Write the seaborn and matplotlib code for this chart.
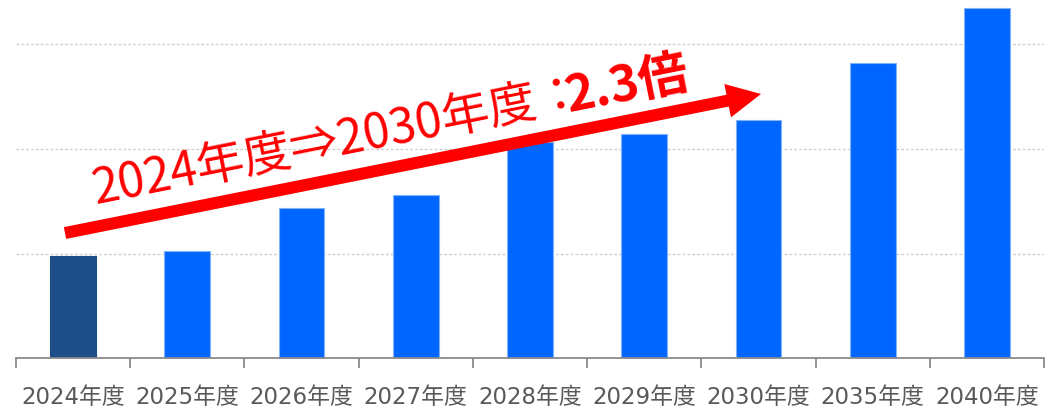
import matplotlib
matplotlib.use("Agg")
import matplotlib.pyplot as plt
import matplotlib.transforms as mtransforms
from matplotlib.patches import FancyArrow
import seaborn as sns
import numpy as np

# ---- data ----
categories = ["2024年度", "2025年度", "2026年度", "2027年度", "2028年度",
              "2029年度", "2030年度", "2035年度", "2040年度"]
values = [98, 102, 143, 156, 206, 214, 227, 282, 334]
bar_colors = ["#1D4E89"] + ["#0066FF"] * 8
grid_values = [100, 200, 300]
label_main = "2024年度⇒2030年度："
label_ratio = "2.3倍"

sns.set_theme(style="white")
plt.rcParams["font.family"] = ["DejaVu Sans", "Noto Sans CJK JP"]

W, H = 1054, 411
fig = plt.figure(figsize=(W / 100, H / 100), dpi=100)
ax = fig.add_axes([16 / W, (H - 358.3) / H, (1044 - 16) / W, 358.3 / H])

sns.barplot(x=categories, y=values, hue=categories, palette=bar_colors,
            legend=False, width=0.4, ax=ax, saturation=1)
for i, p in enumerate(ax.patches):
    if i == 0:
        p.set_edgecolor("#1D4E89")
    else:
        p.set_edgecolor("#7FB2FF")
    p.set_linewidth(0.8)

ax.set_xlim(-0.5, len(categories) - 0.5)
ax.set_ylim(0, 342)
ax.set_xlabel("")
ax.set_ylabel("")
ax.set_yticks(grid_values)
ax.set_yticklabels([])
ax.tick_params(axis="y", length=0)
ax.yaxis.grid(True, color="#D0D0D0", linestyle=(0, (2, 1.5)), linewidth=1.0)
ax.set_axisbelow(True)

for s in ["top", "right", "left"]:
    ax.spines[s].set_visible(False)
ax.spines["bottom"].set_color("#8A8A8A")
ax.spines["bottom"].set_linewidth(1.3)

ax.set_xticks(np.arange(len(categories)))
ax.set_xticklabels(categories, fontsize=16.5, color="#595959")
ax.tick_params(axis="x", which="major", length=0, pad=20)
ax.set_xticks(np.arange(len(categories) + 1) - 0.5, minor=True)
ax.tick_params(axis="x", which="minor", length=7, width=1.3, color="#8A8A8A",
               direction="out", bottom=True)

# pixel transform (origin bottom-left of figure)
pix = mtransforms.Affine2D().scale(1 / 100) + fig.dpi_scale_trans

# red arrow
x0, y0 = 65, H - 233
x1, y1 = 761, H - 94
arrow = FancyArrow(x0, y0, x1 - x0, y1 - y0, width=12, head_width=34,
                   head_length=34, length_includes_head=True,
                   color="#FF0000", linewidth=0, transform=pix)
fig.add_artist(arrow)

angle = np.degrees(np.arctan2(y1 - y0, x1 - x0))
fig.text(95, H - 204, label_main, transform=pix, rotation=angle,
         rotation_mode="anchor", ha="left", va="baseline", color="#FF0000",
         fontsize=34.5, family=["Noto Sans CJK JP", "DejaVu Sans"])
fig.text(568, H - 112, label_ratio, transform=pix, rotation=angle,
         rotation_mode="anchor", ha="left", va="baseline", color="#FF0000",
         fontsize=36, fontweight="bold", family=["Noto Sans CJK JP", "DejaVu Sans"])

fig.savefig("out.png", dpi=100)
